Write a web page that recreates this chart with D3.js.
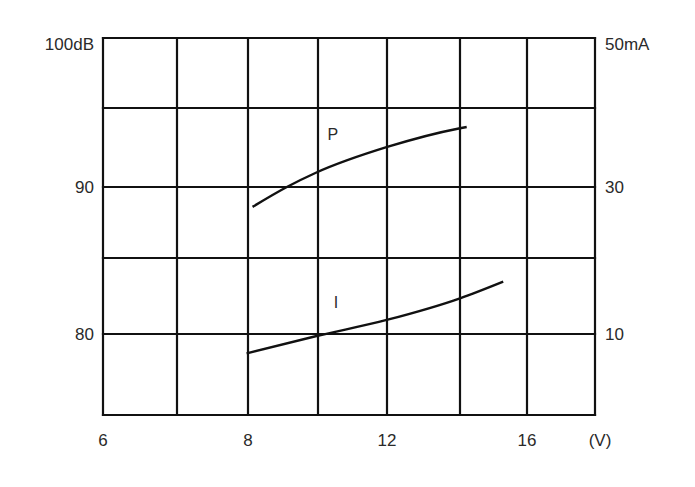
<!DOCTYPE html>
<html>
<head>
<meta charset="utf-8">
<script src="https://cdn.jsdelivr.net/npm/d3@7"></script>
<style>
  html, body { margin: 0; padding: 0; background: #fff; }
  svg { display: block; }
  text { font-family: "Liberation Sans", Arial, Helvetica, sans-serif; fill: #2a2a2a; }
</style>
</head>
<body>
<script>
// ---- data ----
const xTickValues = [6, 8, 12, 16];
const xGridValues = [6, 7, 8, 10, 12, 14, 16, 18];
const xUnitLabel = "(V)";
const dbGridValues = [75, 80, 85, 90, 95, 100];
const dbTickValues = [100, 90, 80];
const dbTickLabels = ["100dB", "90", "80"];
const maTickValues = [50, 30, 10];
const maTickLabels = ["50mA", "30", "10"];

// P curve (sound pressure, dB) vs voltage
const pVolts = [8.13, 9.11, 9.94, 12.03, 14.0, 14.2];
const pDb    = [88.6, 90.0, 90.9, 92.55, 93.72, 93.8];
// I curve (current, mA) vs voltage
const iVolts = [7.98, 9.96, 11.99, 14.0, 15.29];
const iMa    = [7.6, 9.75, 11.85, 14.7, 16.9];

const seriesLabels = [
  { text: "P", v: 10.43, db: 93.3 },
  { text: "I", v: 10.52, ma: 14.2 }
];

// ---- layout ----
const W = 695, H = 487;
const gridXPixels = [103, 177, 248, 318, 387, 460, 527, 595];
const gridYPixels = [415, 334, 258, 187, 108, 38];

const svg = d3.select("body").append("svg")
  .attr("width", W).attr("height", H);

// x: piecewise to follow the drawn grid columns (6,7,8 then 2 V per column)
const x = d3.scaleLinear().domain(xGridValues).range(gridXPixels);

// y: dB axis (left), piecewise to follow the drawn grid rows
const yDb = d3.scaleLinear().domain(dbGridValues).range(gridYPixels);
// right axis in mA shares the same rows: 0mA at 75dB, 10mA per 5dB
const yMa = d3.scaleLinear().domain([0, 10, 20, 30, 40, 50]).range(gridYPixels);

// ---- grid ----
const grid = svg.append("g").attr("stroke", "#111").attr("stroke-width", 2.2)
  .attr("stroke-linecap", "square");
grid.selectAll("line.v").data(xGridValues).join("line")
  .attr("class", "v")
  .attr("x1", d => x(d)).attr("x2", d => x(d))
  .attr("y1", yDb(100)).attr("y2", yDb(75));
grid.selectAll("line.h").data(dbGridValues).join("line")
  .attr("class", "h")
  .attr("x1", x(6)).attr("x2", x(18))
  .attr("y1", d => yDb(d)).attr("y2", d => yDb(d));

// ---- axes labels ----
const fs = "17px";
svg.append("g").selectAll("text").data(dbTickValues).join("text")
  .attr("x", x(6) - 9)
  .attr("y", (d) => yDb(d) + (d === 100 ? 6 : 0))
  .attr("dy", "0.35em")
  .attr("text-anchor", "end")
  .attr("font-size", fs)
  .text((d, i) => dbTickLabels[i]);

svg.append("g").selectAll("text").data(maTickValues).join("text")
  .attr("x", x(18) + 10)
  .attr("y", (d) => yMa(d) + (d === 50 ? 6 : 0))
  .attr("dy", "0.35em")
  .attr("text-anchor", "start")
  .attr("font-size", fs)
  .text((d, i) => maTickLabels[i]);

svg.append("g").selectAll("text").data(xTickValues).join("text")
  .attr("x", d => x(d))
  .attr("y", yDb(75) + 25)
  .attr("dy", "0.35em")
  .attr("text-anchor", "middle")
  .attr("font-size", fs)
  .text(d => d);

svg.append("text")
  .attr("x", x(18) + 5)
  .attr("y", yDb(75) + 25)
  .attr("dy", "0.35em")
  .attr("text-anchor", "middle")
  .attr("font-size", fs)
  .text(xUnitLabel);

// ---- curves ----
const pData = pVolts.map((v, i) => [v, pDb[i]]);
const iData = iVolts.map((v, i) => [v, iMa[i]]);

const pLine = d3.line().x(d => x(d[0])).y(d => yDb(d[1])).curve(d3.curveMonotoneX);
const iLine = d3.line().x(d => x(d[0])).y(d => yMa(d[1])).curve(d3.curveMonotoneX);

svg.append("path").datum(pData)
  .attr("d", pLine).attr("fill", "none")
  .attr("stroke", "#111").attr("stroke-width", 2.4);
svg.append("path").datum(iData)
  .attr("d", iLine).attr("fill", "none")
  .attr("stroke", "#111").attr("stroke-width", 2.4);

// ---- series labels ----
svg.append("text")
  .attr("x", x(seriesLabels[0].v)).attr("y", yDb(seriesLabels[0].db))
  .attr("dy", "0.35em").attr("text-anchor", "middle")
  .attr("font-size", "16px")
  .text(seriesLabels[0].text);
svg.append("text")
  .attr("x", x(seriesLabels[1].v)).attr("y", yMa(seriesLabels[1].ma))
  .attr("dy", "0.35em").attr("text-anchor", "middle")
  .attr("font-size", "16px")
  .text(seriesLabels[1].text);
</script>
</body>
</html>
